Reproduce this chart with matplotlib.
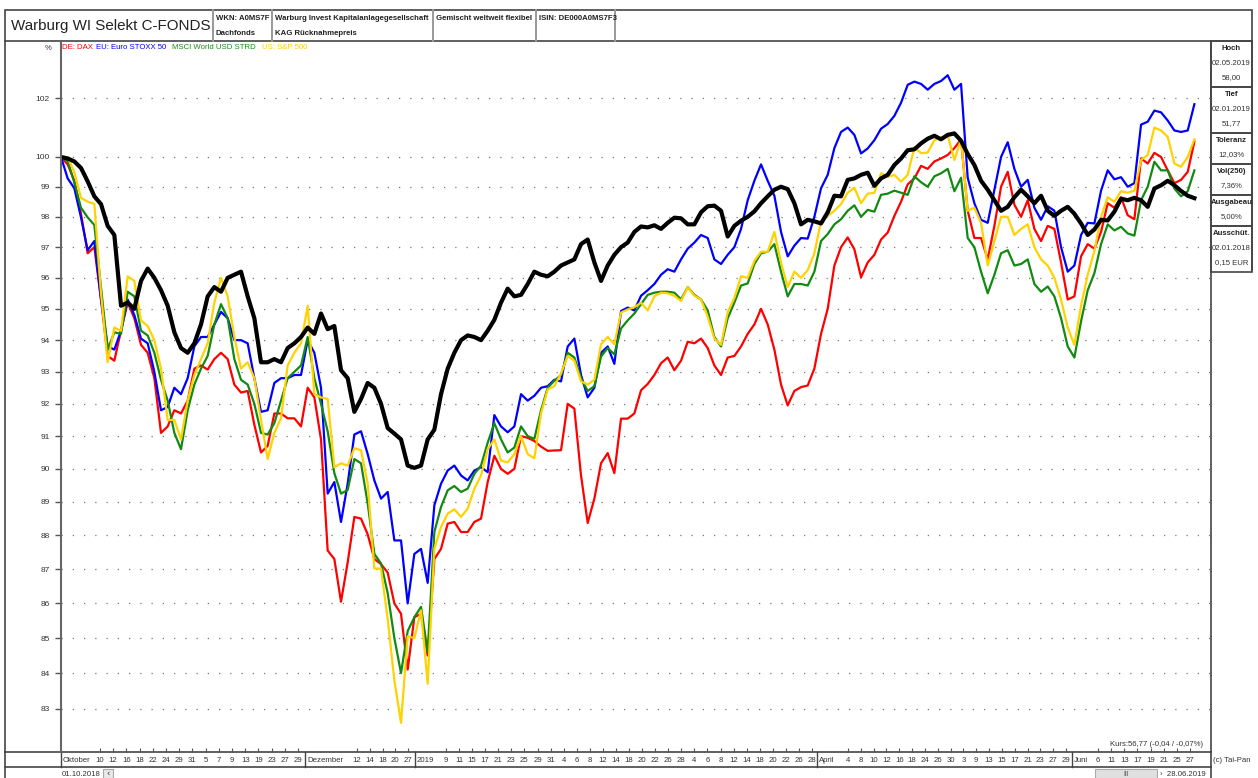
import matplotlib
matplotlib.use('Agg')
import matplotlib.pyplot as plt
from matplotlib.patches import Rectangle
from matplotlib.ticker import FixedLocator, NullLocator
import numpy as np

# Werte in %, ein Wert je Stuetzstelle (ca. alle 1,1 Handelstage), 01.10.2018 - 28.06.2019
fonds = [
    100.0, 99.95, 99.85, 99.63, 99.18, 98.68, 98.42, 97.7, 97.4, 95.1,
    95.2, 95.0, 95.9, 96.3, 96.0, 95.6, 95.1, 94.25, 93.75, 93.6,
    93.9, 94.5, 95.4, 95.7, 95.55, 96.0, 96.1, 96.2, 95.4, 94.7,
    93.3, 93.3, 93.4, 93.3, 93.75, 93.9, 94.1, 94.4, 94.2, 94.85,
    94.35, 94.45, 93.05, 92.8, 91.75, 92.15, 92.65, 92.5, 92.0, 91.25,
    91.08, 90.9, 90.1, 90.03, 90.1, 90.9, 91.2, 92.3, 93.1, 93.6,
    94.0, 94.15, 94.1, 94.0, 94.3, 94.65, 95.2, 95.65, 95.4, 95.45,
    95.8, 96.2, 96.1, 96.05, 96.2, 96.4, 96.5, 96.6, 97.1, 97.25,
    96.5, 95.9, 96.4, 96.75, 97.0, 97.15, 97.5, 97.68, 97.65, 97.72,
    97.6, 97.8, 97.97, 97.95, 97.75, 97.75, 98.15, 98.35, 98.37, 98.2,
    97.35, 97.7, 97.87, 98.0, 98.18, 98.45, 98.68, 98.9, 99.0, 98.92,
    98.45, 97.75, 97.9, 97.85, 97.78, 98.15, 98.7, 98.68, 99.23, 99.28,
    99.4, 99.47, 99.03, 99.28, 99.4, 99.73, 99.95, 100.23, 100.26, 100.46,
    100.62, 100.72, 100.6, 100.75, 100.8, 100.55, 100.1, 99.73, 99.2, 98.9,
    98.55, 98.2, 98.33, 98.65, 98.9, 98.68, 98.45, 98.7, 98.2, 98.03,
    98.2, 98.33, 98.1, 97.78, 97.4, 97.58, 97.9, 97.88, 98.17, 98.6,
    98.55, 98.63, 98.55, 98.33, 98.94, 99.05, 99.2, 99.05, 98.86, 98.7,
    98.62,
]

dax = [
    100.0, 99.75, 99.2, 98.1, 96.8, 97.0, 95.3, 93.5, 93.35, 94.3,
    95.2, 94.7, 93.85, 93.6, 92.8, 91.1, 91.3, 91.8, 91.7, 92.1,
    93.1, 93.2, 93.07, 93.4, 93.6, 93.4, 92.6, 92.35, 92.4, 91.35,
    90.5, 90.7, 91.7, 91.7, 91.55, 91.55, 91.3, 92.5, 92.2, 90.9,
    87.55, 87.3, 86.05, 87.2, 88.55, 88.5, 88.03, 87.3, 87.15, 86.9,
    86.0, 85.7, 84.1, 85.6, 85.7, 84.5, 87.3, 87.6, 88.35, 88.4,
    88.1, 88.1, 88.4, 88.5, 89.6, 90.4, 90.0, 89.85, 90.0, 91.0,
    90.95, 90.85, 90.68, 90.55, 90.56, 90.57, 92.0, 91.85, 89.8, 88.37,
    89.1, 90.17, 90.48, 89.87, 91.54, 91.54, 91.7, 92.42, 92.62, 92.9,
    93.27, 93.45, 93.05, 93.35, 93.95, 93.9, 94.05, 93.75, 93.2, 92.9,
    93.45, 93.5, 93.8, 94.2, 94.5, 95.0, 94.5, 93.7, 92.6, 91.95,
    92.4, 92.52, 92.57, 93.1, 94.2, 95.0, 96.4, 97.0, 97.32, 96.93,
    96.02, 96.5, 96.75, 97.25, 97.48, 98.03, 98.5, 99.08, 99.28, 99.7,
    99.6, 99.85, 99.95, 100.07, 100.3, 100.6, 98.2, 97.3, 97.3, 96.6,
    97.7, 99.0, 99.5, 98.4, 98.0, 98.55, 97.6, 97.2, 97.7, 97.6,
    96.5, 95.3, 95.4, 96.7, 97.1, 96.95, 97.5, 98.45, 98.3, 98.65,
    98.05, 97.92, 99.95, 99.78, 100.14, 100.0, 99.55, 99.12, 99.23, 99.5,
    100.52,
]

stoxx = [
    100.0, 99.28, 98.95, 97.98, 96.9, 97.2, 95.3, 93.8, 93.7, 94.3,
    95.3, 94.8, 94.05, 93.9, 93.0, 91.8, 91.9, 92.5, 92.3, 92.8,
    93.8, 94.1, 94.1, 94.5, 94.9, 94.7, 94.0, 94.0, 93.9, 92.8,
    91.75, 91.8, 92.65, 92.8, 92.8, 92.9, 92.9, 94.0, 93.6, 92.5,
    89.25, 89.6, 88.4, 89.55, 91.05, 91.15, 90.45, 89.65, 89.1, 89.3,
    87.85, 87.85, 86.0, 87.45, 87.6, 86.6, 88.9, 89.55, 89.95, 90.1,
    89.8, 89.65, 89.95, 90.05, 89.9, 91.65, 91.3, 91.12, 91.3, 92.3,
    92.1, 92.25, 92.5, 92.55, 92.75, 92.7, 93.8, 94.05, 92.9, 92.2,
    92.5, 93.6, 93.8, 93.25, 94.93, 95.04, 94.95, 95.42, 95.6, 95.8,
    96.1, 96.28, 96.2, 96.6, 96.95, 97.15, 97.4, 97.3, 96.6, 96.45,
    96.75, 97.0, 97.6, 98.55, 99.2, 99.75, 99.2, 98.7, 97.5, 96.7,
    97.05, 97.3, 97.28, 98.0, 98.95, 99.4, 100.3, 100.85, 101.0, 100.75,
    100.12, 100.29, 100.57, 100.96, 101.12, 101.4, 101.85, 102.47, 102.58, 102.5,
    102.3, 102.5, 102.6, 102.8, 102.3, 102.5, 99.3, 98.45, 97.9, 97.8,
    98.9, 100.0, 100.5, 99.6, 99.0, 99.23, 98.3, 97.9, 98.35, 98.2,
    97.0, 96.2, 96.4, 97.4, 97.8, 97.78, 98.87, 99.55, 99.25, 99.32,
    99.0, 99.12, 101.1, 101.2, 101.58, 101.52, 101.24, 100.9, 100.85, 100.9,
    101.8,
]

msci = [
    100.0, 99.87, 99.14, 98.3, 97.98, 97.73, 95.7, 93.7, 94.25, 94.2,
    95.55, 95.4, 94.3, 94.15, 93.6, 92.75, 92.1, 91.1, 90.6, 91.8,
    92.6, 93.1, 93.5, 94.5, 95.15, 94.7, 93.4, 92.75, 92.6, 92.0,
    91.1, 91.05, 91.4, 92.1, 92.8, 93.0, 93.2, 94.1, 92.8, 92.0,
    91.15, 89.87, 89.25, 89.36, 90.3, 90.17, 88.96, 87.45, 87.17, 86.3,
    85.0, 84.0, 85.2, 85.6, 85.9, 84.6, 88.1, 88.85, 89.35, 89.48,
    89.3, 89.4, 89.85, 90.1, 90.8, 91.4, 90.9, 90.5, 90.65, 91.3,
    91.0, 90.92, 91.8, 92.5, 92.72, 92.9, 93.6, 93.45, 92.8, 92.4,
    92.55, 93.48, 93.75, 93.55, 94.37, 94.63, 94.85, 95.15, 95.45, 95.52,
    95.55, 95.55, 95.52, 95.3, 95.7, 95.45, 95.3, 94.95, 94.1, 93.8,
    94.7, 95.2, 95.75, 95.82, 96.45, 96.8, 96.85, 97.1, 96.2, 95.4,
    95.8, 95.8, 95.75, 96.2, 97.2, 97.43, 97.75, 97.92, 98.2, 98.38,
    98.0, 98.23, 98.17, 98.73, 98.77, 98.87, 98.8, 98.73, 99.35, 99.15,
    99.0, 99.35, 99.45, 99.6, 98.85, 99.3, 97.3, 97.0, 96.2, 95.5,
    96.1, 96.8, 96.9, 96.4, 96.45, 96.6, 95.8, 95.55, 95.72, 95.4,
    94.7, 93.8, 93.45, 94.6, 95.6, 96.15, 97.1, 97.75, 97.55, 97.67,
    97.45, 97.38, 98.55, 99.0, 99.84, 99.55, 99.55, 98.94, 98.68, 98.85,
    99.55,
]

sp500 = [
    100.0, 100.0, 99.48, 98.63, 98.5, 98.43, 95.5, 93.3, 94.4, 94.3,
    96.05, 95.9, 94.63, 94.45, 94.0, 93.1, 91.5, 91.5, 90.9, 92.1,
    92.9, 93.4, 93.9, 95.2, 96.0, 95.4, 94.1, 93.1, 93.3, 92.8,
    91.5, 90.3, 91.1, 91.55, 93.2, 93.6, 93.9, 95.1, 92.3, 92.2,
    92.15, 90.05, 90.17, 90.1, 90.63, 90.57, 89.55, 87.02, 87.02, 85.55,
    83.8, 82.6, 85.05, 85.0, 85.8, 83.7, 87.6, 88.25, 88.65, 88.78,
    88.55, 88.8, 89.4, 89.8, 90.6, 90.9, 90.25, 90.2, 90.45, 91.0,
    90.45, 90.32, 91.7, 92.45, 92.55, 92.95, 93.5, 93.35, 92.7, 92.6,
    92.75, 93.87, 94.1, 93.87, 94.88, 94.98, 95.05, 95.2, 94.95, 95.4,
    95.52, 95.5, 95.42, 95.25, 95.7, 95.42, 95.3, 94.75, 94.05, 93.85,
    94.9, 95.35, 96.05, 96.0, 96.55, 96.85, 96.85, 97.5, 96.5, 95.7,
    96.2, 96.0, 96.25, 96.8, 97.85, 98.03, 98.2, 98.42, 98.8, 98.97,
    98.45, 98.77, 98.8, 99.45, 99.33, 99.4, 99.17, 99.4, 100.33, 100.13,
    100.15, 100.57, 100.66, 100.73, 99.9, 100.6, 98.2, 98.3, 97.8, 96.4,
    97.2, 98.0, 98.0, 97.4, 97.6, 97.75, 97.0, 96.6, 96.4, 96.0,
    95.3, 94.4, 93.85, 95.1, 96.1, 96.87, 98.0, 98.65, 98.5, 98.85,
    98.8, 98.87, 99.9, 100.07, 101.0, 100.9, 100.68, 99.78, 99.67, 100.0,
    100.6,
]

y_ticks = [83, 84, 85, 86, 87, 88, 89, 90, 91, 92, 93, 94, 95, 96, 97, 98, 99, 100, 102]

monate = ['Oktober', 'Dezember', '2019', 'April', 'Juni']
tage = [
    ['10', '12', '16', '18', '22', '24', '29', '31', '5', '7', '9', '13', '19', '23', '27', '29'],
    ['12', '14', '18', '20', '27'],
    ['9', '11', '15', '17', '21', '23', '25', '29', '31', '4', '6', '8', '12', '14', '18', '20',
     '22', '26', '28', '4', '6', '8', '12', '14', '18', '20', '22', '26', '28'],
    ['4', '8', '10', '12', '16', '18', '24', '26', '30', '3', '9', '13', '15', '17', '21', '23',
     '27', '29'],
    ['6', '11', '13', '17', '19', '21', '25', '27'],
]

legende = [('DE: DAX', '#ff0000'), ('EU: Euro STOXX 50', '#0000ff'),
           ('MSCI World USD STRD', '#1a8a1a'), ('US: S&P 500', '#ffcc00')]

kennzahlen = [('Hoch', ['02.05.2019', '58,00']), ('Tief', ['02.01.2019', '51,77']),
              ('Toleranz', ['12,03%']), ('Vol(250)', ['7,36%']),
              ('Ausgabeau', ['5,00%']), ('Ausschüt.', ['02.01.2018', '0,15 EUR'])]

W, H = 1258, 778
NARROW = ['Liberation Sans Narrow', 'Liberation Sans', 'DejaVu Sans']
ARIAL = ['Liberation Sans', 'DejaVu Sans']
FS = 5.6                 # kleine Schrift
PX_STEP = 6.667          # Pixel je Stuetzstelle
X0 = 61                  # linke Achse


def k_of(px):
    return (px - X0) / PX_STEP


fig = plt.figure(figsize=(W / 100, H / 100), dpi=100)
fig.patch.set_facecolor('white')

# Rahmen / Beschriftung in Pixelkoordinaten
deco = fig.add_axes([0, 0, 1, 1])
deco.set_xlim(0, W)
deco.set_ylim(H, 0)
deco.axis('off')

frame_c = '#444444'
deco.add_patch(Rectangle((5, 10), 1247, 31, fill=False, ec=frame_c, lw=1.2))
for xs in [213, 272, 433, 536, 615]:
    deco.plot([xs, xs], [10, 41], color='#999999', lw=1.4)
deco.text(11, 26, 'Warburg WI Selekt C-FONDS', fontsize=10.9, family=ARIAL,
          va='center', ha='left', color='#222222')
kopf = [(216, 'WKN: A0MS7F', 'Dachfonds'),
        (275, 'Warburg Invest Kapitalanlagegesellschaft', 'KAG Rücknahmepreis'),
        (436, 'Gemischt weltweit flexibel', ''),
        (539, 'ISIN: DE000A0MS7F3', '')]
for x, t1, t2 in kopf:
    deco.text(x, 18, t1, fontsize=FS, family=NARROW, weight='bold', va='center', color='#222222')
    if t2:
        deco.text(x, 33, t2, fontsize=FS, family=NARROW, weight='bold', va='center', color='#222222')

# linker / unterer Rahmen
deco.plot([5, 5], [41, 778], color=frame_c, lw=1.2)
deco.plot([5, 1211], [752, 752], color=frame_c, lw=1.2)
deco.plot([5, 1211], [767, 767], color=frame_c, lw=1.2)
deco.plot([1211, 1211], [41, 778], color=frame_c, lw=1.2)
deco.plot([1252, 1252], [41, 270], color=frame_c, lw=1.2)
deco.text(48, 48, '%', fontsize=FS, family=NARROW, ha='center', va='center', color='#333333')

# Kennzahlen rechts
y = 41
for titel, werte in kennzahlen:
    h = 14 + 15 * len(werte) + 2
    deco.add_patch(Rectangle((1211, y), 41, h, fill=False, ec=frame_c, lw=1.2))
    deco.text(1231.5, y + 7, titel, fontsize=FS, family=NARROW, weight='bold',
              ha='center', va='center', color='#222222')
    for j, w in enumerate(werte):
        deco.text(1231.5, y + 22 + 15 * j, w, fontsize=FS, family=NARROW,
                  ha='center', va='center', color='#333333')
    y += h

deco.text(1203, 744, 'Kurs:56,77 (-0,04 / -0,07%)', fontsize=FS, family=NARROW,
          ha='right', va='center', color='#333333')
deco.text(1213, 760, '(c) Tai-Pan', fontsize=FS, family=NARROW, ha='left', va='center',
          color='#333333')
deco.text(62, 774, '01.10.2018', fontsize=FS, family=NARROW, ha='left', va='center',
          color='#333333')
deco.add_patch(Rectangle((103, 769), 10, 9, fc='#e8e8e8', ec='#aaaaaa', lw=0.8))
deco.text(108, 774, '‹', fontsize=6, ha='center', va='center', color='#333333')
deco.add_patch(Rectangle((1095, 769), 62, 9, fc='#e0e0e0', ec='#aaaaaa', lw=0.8))
deco.text(1126, 774, 'III', fontsize=5, family=NARROW, ha='center', va='center', color='#555555')
deco.text(1160, 774, '›  28.06.2019', fontsize=FS, family=NARROW, ha='left', va='center',
          color='#333333')

# Diagramm
ax = fig.add_axes([X0 / W, 1 - 752 / H, (1211 - X0) / W, (752 - 41) / H])
ax.set_facecolor('none')
ax.set_yscale('log')
ax.set_xlim(0, k_of(1211))
ax.set_ylim(100 * np.exp((157 - 752) / 2960), 100 * np.exp((157 - 41) / 2960))

ax.yaxis.set_major_locator(FixedLocator(y_ticks))
ax.yaxis.set_minor_locator(NullLocator())
ax.set_yticklabels([str(v) for v in y_ticks], family=NARROW, fontsize=6.0, color='#333333')
ax.tick_params(axis='y', length=4, width=1, color='#555555', pad=4)
ax.grid(axis='y', linestyle=(0, (1, 8)), color='#777777', lw=0.9)

for s in ['top', 'right', 'bottom']:
    ax.spines[s].set_visible(False)
ax.spines['left'].set_color('#666666')
ax.spines['left'].set_linewidth(1.5)

serien = [(dax, '#ff0000', 1.6), (stoxx, '#0000ff', 1.6), (msci, '#128a12', 1.6),
          (sp500, '#ffd200', 1.6), (fonds, '#000000', 3.0)]
for vals, c, lw in serien:
    ax.plot(np.arange(len(vals)), vals, color=c, lw=lw, solid_joinstyle='round')

# Legende oben
lx = [62, 96, 172, 262]
for (txt, c), x in zip(legende, lx):
    deco.text(x, 47, txt, fontsize=FS, family=NARROW, color=c, va='center', ha='left')

# Zeitachse
trenner = [61, 305, 415, 817, 1072]
spannen = [(100, 298), (357, 408), (446, 812), (848, 1066), (1098, 1190)]
xt = ax.get_xaxis_transform()
tick_pos = []
for name, sep, (a, b), labels in zip(monate, trenner, spannen, tage):
    ax.plot([k_of(sep)] * 2, [0, -15 / 711], transform=xt, color=frame_c, lw=1.0, clip_on=False)
    ax.text(k_of(sep + 2), -8 / 711, name, transform=xt, fontsize=FS, family=NARROW,
            ha='left', va='center', color='#333333')
    pos = np.linspace(k_of(a), k_of(b), len(labels))
    for p, lab in zip(pos, labels):
        ax.text(p, -8 / 711, lab, transform=xt, fontsize=FS, family=NARROW,
                ha='center', va='center', color='#333333')
    tick_pos.extend(pos)
ax.set_xticks(tick_pos)
ax.set_xticklabels([])
ax.tick_params(axis='x', length=3, width=0.8, color='#555555', direction='in')

fig.savefig('out.png', dpi=100, facecolor='white')
